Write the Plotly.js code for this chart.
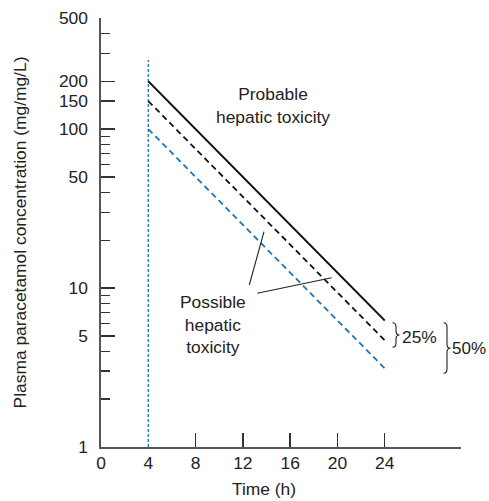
<!DOCTYPE html>
<html>
<head>
<meta charset="utf-8">
<script src="https://cdn.plot.ly/plotly-3.0.1.min.js"></script>
<style>html,body{margin:0;padding:0;background:#fff;}#chart{width:489px;height:501px;}</style>
</head>
<body>
<div id="chart"></div>
<script>
// ---- data ----
const hours = [4, 24];
const probableLine = [200, 6.25];     // solid black
const highRiskLine = [150, 4.69];     // dashed black (25% lower)
const treatmentLine = [100, 3.125];   // dashed blue (50% lower)
const startHour = [4, 4];
const startConc = [1, 272];
const xTickVals = [0, 4, 8, 12, 16, 20, 24];
const xTickMarks = [8, 12, 16, 20, 24];
const yTickVals = [1, 5, 10, 50, 100, 150, 200, 500];
const yTickText = ['1', '5', '10', '50', '100', '150', '200', '500'];
const yMinorVals = [2, 3, 4, 6, 7, 8, 9, 20, 30, 40, 60, 70, 80, 90, 300, 400];

// ---- layout geometry ----
const W = 489, H = 501;
const M = {l: 101, r: 28, t: 18, b: 54};
const plotL = M.l, plotR = 461, plotT = M.t, plotB = H - M.b;
M.r = W - plotR;
const px = p => (p - plotL) / (plotR - plotL);
const py = p => (plotB - p) / (plotB - plotT);

const FONT = '"Liberation Sans", Arial, sans-serif';
const BLUE = '#1b75bc';
const TXT = '#222222';
const FS = 17.4;

function brace(x0, w, yt, yb, ym) {
  const xm = x0 + w * 0.5, xp = x0 + w, r = 4;
  const P = (x, y) => px(x).toFixed(5) + ',' + py(y).toFixed(5);
  return 'M' + P(x0, yt) + ' Q' + P(xm, yt) + ' ' + P(xm, yt + r) +
    ' L' + P(xm, ym - r) + ' Q' + P(xm, ym) + ' ' + P(xp, ym) +
    ' Q' + P(xm, ym) + ' ' + P(xm, ym + r) +
    ' L' + P(xm, yb - r) + ' Q' + P(xm, yb) + ' ' + P(x0, yb);
}

const traces = [
  {x: startHour, y: startConc, mode: 'lines', line: {color: BLUE, width: 1.3, dash: '3px,2px'}, hoverinfo: 'skip'},
  {x: hours, y: probableLine, mode: 'lines', line: {color: '#111', width: 1.8}},
  {x: hours, y: highRiskLine, mode: 'lines', line: {color: '#111', width: 1.8, dash: '6px,4px'}},
  {x: hours, y: treatmentLine, mode: 'lines', line: {color: BLUE, width: 1.8, dash: '6px,4px'}}
];

const layout = {
  width: W, height: H,
  margin: M,
  showlegend: false,
  paper_bgcolor: '#fff', plot_bgcolor: '#fff',
  font: {family: FONT, size: FS, color: TXT},
  xaxis: {
    range: [0, 30.45], showgrid: false, zeroline: false,
    showline: true, linecolor: '#555', linewidth: 1.6,
    tickmode: 'array', tickvals: xTickVals, ticktext: xTickVals.map(String),
    ticks: '', ticklabelstandoff: 0,
    minor: {tickmode: 'array', tickvals: xTickMarks, ticks: 'inside', ticklen: 14, tickwidth: 1.4, tickcolor: '#333', showgrid: false},
    tickfont: {family: FONT, size: FS, color: TXT}
  },
  yaxis: {
    type: 'log', range: [0, Math.log10(500)], showgrid: false, zeroline: false,
    showline: true, linecolor: '#555', linewidth: 1.6,
    tickmode: 'array', tickvals: yTickVals, ticktext: yTickText,
    ticks: 'inside', ticklen: 14, tickwidth: 1.4, tickcolor: '#333',
    ticklabelstandoff: 8,
    minor: {tickmode: 'array', tickvals: yMinorVals, ticks: 'inside', ticklen: 9, tickwidth: 1.4, tickcolor: '#333', showgrid: false},
    tickfont: {family: FONT, size: FS, color: TXT},
    title: {text: 'Plasma paracetamol concentration (mg/mg/L)', font: {family: FONT, size: FS, color: TXT}, standoff: 28}
  },
  annotations: [
    {xref: 'paper', yref: 'paper', x: px(272.5), y: py(105), text: 'Probable<br>hepatic toxicity', showarrow: false, xanchor: 'center', yanchor: 'middle', align: 'center'},
    {xref: 'paper', yref: 'paper', x: px(212.8), y: py(324), text: 'Possible<br>hepatic<br>toxicity', showarrow: false, xanchor: 'center', yanchor: 'middle', align: 'center'},
    {xref: 'paper', yref: 'paper', x: px(400), y: py(336.5), text: '25%', showarrow: false, xanchor: 'left', yanchor: 'middle'},
    {xref: 'paper', yref: 'paper', x: px(450), y: py(348.5), text: '50%', showarrow: false, xanchor: 'left', yanchor: 'middle', font: {family: FONT, size: 17, color: TXT}},
    {xref: 'paper', yref: 'paper', x: px(263.5), y: py(489), text: 'Time (h)', showarrow: false, xanchor: 'center', yanchor: 'middle'}
  ],
  shapes: [
    {type: 'line', xref: 'paper', yref: 'paper', x0: px(249.3), y0: py(285), x1: px(264), y1: py(231.7), line: {color: '#222', width: 1.1}},
    {type: 'line', xref: 'paper', yref: 'paper', x0: px(257.3), y0: py(293.3), x1: px(331.7), y1: py(277.7), line: {color: '#222', width: 1.1}},
    {type: 'path', xref: 'paper', yref: 'paper', path: brace(392.5, 7, 322.7, 347.3, 335), line: {color: '#222', width: 1.1}},
    {type: 'path', xref: 'paper', yref: 'paper', path: brace(443.5, 7, 322.7, 373.3, 348.3), line: {color: '#222', width: 1.1}}
  ]
};

Plotly.newPlot('chart', traces, layout, {displayModeBar: false, staticPlot: true});
</script>
</body>
</html>
